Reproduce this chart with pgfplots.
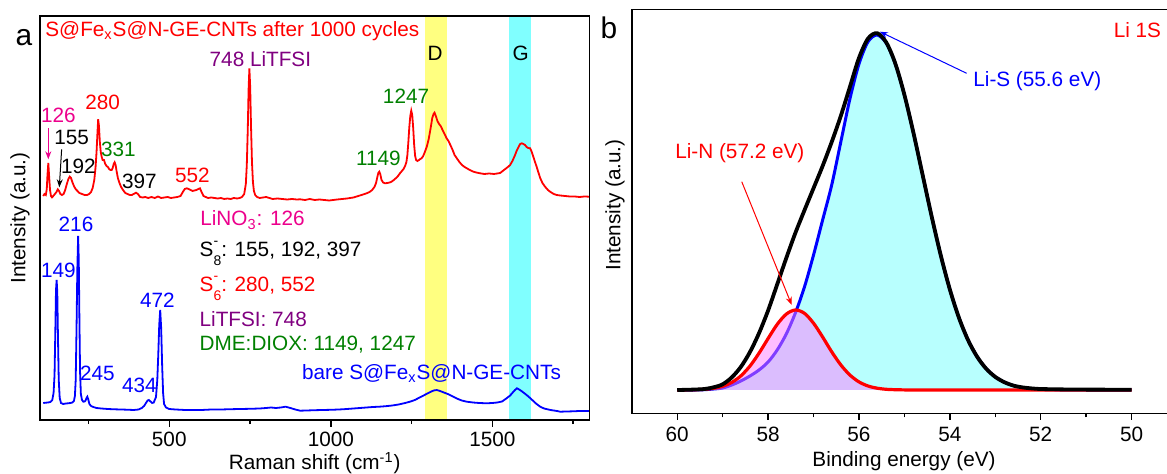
\documentclass[border=0pt]{standalone}
\usepackage{pgfplots}
\pgfplotsset{compat=1.18}
\usepackage{fontspec}
\setmainfont{Liberation Sans}
\usetikzlibrary{arrows.meta}
\definecolor{dgreen}{RGB}{0,128,0}
\definecolor{purp}{RGB}{128,0,128}
\definecolor{bandY}{RGB}{255,255,128}
\definecolor{bandC}{RGB}{128,255,255}
\definecolor{lscyan}{RGB}{184,255,254}
\definecolor{lnpink}{RGB}{255,125,255}
\newcommand{\ion}[1]{S\makebox[0pt][l]{\raisebox{1.05ex}{\fontsize{7}{7}\selectfont -}}\raisebox{-0.75ex}{\fontsize{7}{7}\selectfont #1}}
\begin{document}
\begin{tikzpicture}[lab/.style={font=\fontsize{10.4}{12}\selectfont, inner sep=0pt}]
\useasboundingbox (0,0) rectangle (583.5bp,237bp);
\pgfplotsset{myax/.style={scale only axis, anchor=south west, ytick=\empty, tick align=outside,
  major tick length=3.3bp, minor tick length=2bp, xtick pos=bottom,
  axis line style={line width=0.7bp}, every tick/.style={black, line width=0.7bp},
  tick label style={font=\fontsize{10.4}{12}\selectfont}, axis on top}}
% ---------------- panel a ----------------
\begin{axis}[myax, at={(20bp,27bp)}, width=274.65bp, height=202bp,
  xmin=100, xmax=1800, ymin=0, ymax=404, xticklabel style={yshift=1bp},
  xtick={500,1000,1500}, xticklabels={500,1000,1500}, minor xtick={250,750,1250,1750}]
\addplot[draw=none, fill=bandY] coordinates {(1292.5,-5) (1292.5,410) (1360.6,410) (1360.6,-5)} -- cycle;
\addplot[draw=none, fill=bandC] coordinates {(1552.5,-5) (1552.5,410) (1620.6,410) (1620.6,-5)} -- cycle;
% red spectrum: after 1000 cycles
\addplot[red, line width=0.9bp] coordinates {
(110,224)(114,226)(118,225)(121,231)(123,244)(125.7,257)(128,245)(131,230)(134,224)(137,222.7)(141,224)(146,226)(151,228)(155,230.7)(159,229)(163,226)(168,225)(173,226)(178,230)(183,236)(188,241)(192,243.3)(196,242)(200,238)(205,234)(210,231)(216,229)(222,227)(230,226)(238,225)(246,225)(252,226)(258,228)(263,232)(268,240)(272,253)(275,268)(277.5,285)(280,300.7)(282.5,294)(285,279)(288,268)(291,263)(294,260)(298,260)(302,256)(306,254)(310,253)(314,251)(318,250)(322,250)(325,252)(328,256)(331,257.7)(334,255)(337,249)(341,242)(346,237)(351,233)(357,230)(364,227)(371,226)(378,225)(384,225)(390,226)(397,227.3)(403,226)(410,223)(418,222.5)(426,223)(435,222)(445,223)(455,222)(465,223.5)(475,222)(485,222.5)(495,223)(505,222)(515,222.5)(525,223)(535,224)(542,228)(548,231)(554,231.7)(560,231)(566,230)(572,229)(578,229.5)(584,230)(590,231)(595,231.7)(600,228)(606,224)(613,223)(620,222)(630,222.5)(640,222)(650,221.5)(660,222)(670,221)(680,221.5)(690,221)(700,222)(710,221.5)(718,222)(725,223)(732,226)(737,236)(740,255)(743,290)(745.5,330)(748,351.7)(750.5,333)(753,295)(756,258)(759,238)(762,229)(766,225)(772,223)(780,222)(790,222.5)(800,223)(810,222)(820,221)(835,221.5)(850,221)(865,220.5)(880,221)(895,220.5)(905,220.7)(920,220)(935,221)(950,220)(965,220.5)(980,220)(995,219.5)(1007,220)(1020,220.5)(1035,221)(1050,221.5)(1060,222)(1070,222.5)(1080,223.5)(1090,224.5)(1100,225.5)(1111,226.7)(1120,228)(1128,230)(1135,233)(1140,237)(1144,243)(1147,247)(1150,248.3)(1153,246)(1157,240)(1162,237.5)(1168,236.7)(1175,237)(1182,237.5)(1188,238.3)(1195,240)(1202,242)(1208,244)(1214,246.7)(1220,249)(1225,251)(1230,254)(1234,258)(1237,265)(1240,278)(1243,293)(1246,304)(1249,309.3)(1252,305)(1255,292)(1258,275)(1261,264)(1264,260)(1268,259)(1273,260)(1277,261)(1281,261.7)(1286,264)(1291,268)(1297,273.3)(1303,281)(1309,292)(1314,302)(1318,306)(1321,307.3)(1325,304)(1330,299)(1335,296)(1340,294)(1346,290)(1352,286)(1358,282)(1364,279)(1370,275)(1377,270)(1383,265)(1390,261.7)(1398,258)(1406,255)(1414,253)(1421,251.7)(1430,250)(1440,248.5)(1450,247.5)(1462,246.7)(1475,246)(1490,246.5)(1505,246)(1515,246.5)(1524,247)(1532,249)(1540,251)(1548,253)(1555,255)(1562,259)(1569,264)(1575,269)(1581,273)(1586,276)(1591,276.7)(1596,276)(1601,275)(1606,273)(1611,272)(1617,271.7)(1622,268)(1627,263)(1632,258)(1637,253.3)(1642,248)(1648,242)(1655,237)(1663,233.3)(1672,230)(1680,228)(1690,226)(1699,225)(1710,224.5)(1725,224)(1740,223.5)(1755,223.5)(1770,223)(1785,223.5)(1800,223.3)};
% blue spectrum: bare
\addplot[blue, line width=0.9bp] coordinates {
(110,17)(118,17.3)(125,17.5)(132,18)(138,20)(142,27)(145,45)(147.5,90)(149.5,130)(151.5,140)(153.5,128)(155.5,85)(158,40)(161,22)(165,17)(172,16)(180,16.5)(187,16.7)(194,17)(200,17.5)(205,19)(208,24)(210.5,40)(213,90)(215.5,150)(218,184)(220,160)(222,100)(224,48)(226.5,26)(230,20)(234,18.3)(238,18.5)(241,19.5)(244,22)(246.5,23.3)(249,21)(253,16)(258,14)(265,13)(275,12)(290,11.5)(310,11)(330,10.7)(350,10.5)(370,10.3)(390,10)(405,10.5)(415,12)(422,14)(428,17)(433,19.5)(437,20)(442,18.5)(447,17)(452,17.5)(459,23)(463,40)(466,65)(469,95)(472,110)(475,92)(478,55)(481,27)(484,16)(490,12.5)(500,11)(520,10.5)(550,10)(580,10)(600,10)(630,10.5)(660,10.5)(690,10.8)(720,11)(750,11.2)(780,11.5)(800,12)(815,12.5)(830,12)(845,12.5)(860,13.3)(875,12)(890,10.5)(905,9.3)(925,9.5)(950,9.8)(975,10)(1000,10.2)(1025,10.5)(1050,11)(1070,11.5)(1090,12)(1110,12.5)(1130,13)(1150,13.3)(1170,13.8)(1190,14.5)(1210,15.5)(1230,17)(1245,18.3)(1260,20)(1275,22.5)(1290,25)(1305,27.5)(1318,29.5)(1328,30)(1338,29)(1350,27.5)(1362,26)(1375,24)(1390,21.5)(1405,19.5)(1421,18.3)(1440,17.5)(1460,17)(1482,16.7)(1500,17)(1515,17.5)(1530,18.5)(1544,21.7)(1555,24.5)(1563,27.5)(1570,30)(1576,31.7)(1583,30.5)(1590,29)(1598,27)(1606,25)(1615,22.5)(1625,19.5)(1635,16.5)(1648,13.3)(1660,11.5)(1680,10)(1700,9)(1710,8.3)(1730,8.5)(1750,8.7)(1770,9)(1785,9)(1800,9)};
% annotations
\node[lab, anchor=west, text=red] at (axis cs:115.5,389.3) {S@Fe\textsubscript{x}S@N-GE-CNTs after 1000 cycles};
\node[lab, anchor=west, text=purp] at (axis cs:624,360.7) {748 LiTFSI};
\node[lab, text=magenta] at (axis cs:156.6,305) {126};
\node[lab] at (axis cs:198,282.7) {155};
\node[lab] at (axis cs:218.5,254) {192};
\node[lab, text=red] at (axis cs:294,317.3) {280};
\node[lab, text=dgreen] at (axis cs:342.3,270.7) {331};
\node[lab] at (axis cs:407.3,238.3) {397};
\node[lab, text=red] at (axis cs:571.4,245) {552};
\node[lab, text=dgreen] at (axis cs:1147,261.7) {1149};
\node[lab, text=dgreen] at (axis cs:1232.8,323.3) {1247};
\node[lab] at (axis cs:1322.5,366.7) {D};
\node[lab] at (axis cs:1587.8,366.7) {G};
\node[lab, anchor=west, text=magenta] at (axis cs:595,200) {LiNO\textsubscript{3}: 126};
\node[lab, anchor=west] at (axis cs:593,166.7) {\ion{8}: 155, 192, 397};
\node[lab, anchor=west, text=red] at (axis cs:593,131.7) {\ion{6}: 280, 552};
\node[lab, anchor=west, text=purp] at (axis cs:593,100.7) {LiTFSI: 748};
\node[lab, anchor=west, text=dgreen] at (axis cs:593,75) {DME:DIOX: 1149, 1247};
\node[lab, text=blue] at (axis cs:211.4,196) {216};
\node[lab, text=blue] at (axis cs:156.6,150) {149};
\node[lab, text=blue] at (axis cs:463,120) {472};
\node[lab, text=blue] at (axis cs:277.3,46.7) {245};
\node[lab, text=blue] at (axis cs:407.3,35) {434};
\node[lab, anchor=west, text=blue] at (axis cs:910,46.7) {bare S@Fe\textsubscript{x}S@N-GE-CNTs};
\draw[magenta, line width=0.5bp, -{Stealth[length=4bp,width=3bp]}] (axis cs:125.7,291.7) -- (axis cs:125.7,260.7);
\draw[black, line width=0.5bp, -{Stealth[length=4bp,width=3bp]}] (axis cs:167,270.7) -- (axis cs:159.7,232.7);
\end{axis}
% ---------------- panel b ----------------
\begin{axis}[myax, at={(315.9bp,30.35bp)}, width=272.6bp, height=202bp,
  xmin=49, xmax=61, x dir=reverse, ymin=-23.3, ymax=380.7,
  xtick={50,52,54,56,58,60}, xticklabels={50,52,54,56,58,60}, minor xtick={51,53,55,57,59}]
\addplot[draw=none, fill=lscyan] coordinates {
(60,0)(59.6,0)(59.4,0.3)(59.2,1)(59,2)(58.8,5)(58.6,9)(58.4,14)(58.2,20)(58,28)(57.8,40)(57.6,56)(57.4,77)(57.2,103)(57,135)(56.8,170)(56.6,205)(56.4,248)(56.2,291)(56,326)(55.8,348.3)(55.6,355)(55.4,346.9)(55.2,326.2)(55,295.1)(54.8,257)(54.6,215.3)(54.4,173.6)(54.2,134.7)(54,100.6)(53.8,72.3)(53.6,50)(53.4,33.3)(53.2,21.3)(53,13.1)(52.8,7.8)(52.6,4.4)(52.4,2.4)(52.2,1.3)(52,0.6)(51.5,0.1)(51,0)(50,0)} -- cycle;
\addplot[blue, line width=1.5bp, smooth] coordinates {
(60,0)(59.6,0)(59.4,0.3)(59.2,1)(59,2)(58.8,5)(58.6,9)(58.4,14)(58.2,20)(58,28)(57.8,40)(57.6,56)(57.4,77)(57.2,103)(57,135)(56.8,170)(56.6,205)(56.4,248)(56.2,291)(56,326)(55.8,348.3)(55.6,355)(55.4,346.9)(55.2,326.2)(55,295.1)(54.8,257)(54.6,215.3)(54.4,173.6)(54.2,134.7)(54,100.6)(53.8,72.3)(53.6,50)(53.4,33.3)(53.2,21.3)(53,13.1)(52.8,7.8)(52.6,4.4)(52.4,2.4)(52.2,1.3)(52,0.6)(51.5,0.1)(51,0)(50,0)};
\addplot[draw=none, fill=lnpink, fill opacity=0.5] coordinates {
(60,0)(59.8,0.1)(59.6,0.3)(59.4,0.7)(59.2,1.7)(59,3.7)(58.8,7.6)(58.6,14.1)(58.4,23.9)(58.2,36.8)(58,51.5)(57.8,65.6)(57.6,75.9)(57.4,80)(57.2,76.7)(57,66.8)(56.8,53)(56.6,38.2)(56.4,25.1)(56.2,15)(56,8.1)(55.8,4)(55.6,1.8)(55.4,0.7)(55.2,0.3)(55,0.1)(54.8,0)(50,0)} -- cycle;
\addplot[red, line width=1.6bp, smooth] coordinates {
(60,0)(59.8,0.1)(59.6,0.3)(59.4,0.7)(59.2,1.7)(59,3.7)(58.8,7.6)(58.6,14.1)(58.4,23.9)(58.2,36.8)(58,51.5)(57.8,65.6)(57.6,75.9)(57.4,80)(57.2,76.7)(57,66.8)(56.8,53)(56.6,38.2)(56.4,25.1)(56.2,15)(56,8.1)(55.8,4)(55.6,1.8)(55.4,0.7)(55.2,0.3)(55,0.1)(54.8,0)(54,0)(52,0)(50,0)};
\addplot[black, line width=1.9bp, smooth] coordinates {
(60,0)(59.8,0.2)(59.6,0.5)(59.4,1)(59.2,2.7)(59,5.7)(58.8,12.6)(58.6,23.1)(58.4,37.9)(58.2,56.8)(58,79.5)(57.8,105.6)(57.6,131.9)(57.4,157)(57.2,179.7)(57,201.8)(56.8,224)(56.6,248)(56.4,274)(56.2,303)(56,332)(55.8,351.5)(55.6,356.8)(55.4,347.6)(55.2,326.5)(55,295.2)(54.8,257)(54.6,215.3)(54.4,173.6)(54.2,134.7)(54,100.6)(53.8,72.3)(53.6,50)(53.4,33.3)(53.2,21.3)(53,13.1)(52.8,7.8)(52.6,4.4)(52.4,2.6)(52.2,1.6)(52,1)(51.5,0.6)(51,0.4)(50,0.3)};
\node[lab, anchor=west, text=red] at (axis cs:50.40,360) {Li 1S};
\node[lab, anchor=west, text=blue] at (axis cs:53.49,309) {Li-S (55.6 eV)};
\node[lab, anchor=west, text=red] at (axis cs:60.05,236.7) {Li-N (57.2 eV)};
\draw[blue, line width=0.5bp, -{Stealth[length=4bp,width=3bp]}] (axis cs:53.63,316.7) -- (axis cs:55.54,358.3);
\draw[red, line width=0.5bp, -{Stealth[length=4bp,width=3bp]}] (axis cs:58.58,208.3) -- (axis cs:57.48,85);
\end{axis}
% outside labels
\node[lab] at (157.35bp,5.35bp) {Raman shift (cm\textsuperscript{-1})};
\node[lab, rotate=90] at (10bp,128bp) {Intensity (a.u.)};
\node[lab] at (452bp,6.5bp) {Binding energy (eV)};
\node[lab, rotate=90] at (307.5bp,134.5bp) {Intensity (a.u.)};
\node[font=\fontsize{15}{16}\selectfont, inner sep=0pt] at (12bp,218bp) {a};
\node[font=\fontsize{15}{16}\selectfont, inner sep=0pt] at (304.5bp,223bp) {b};
\end{tikzpicture}
\end{document}
